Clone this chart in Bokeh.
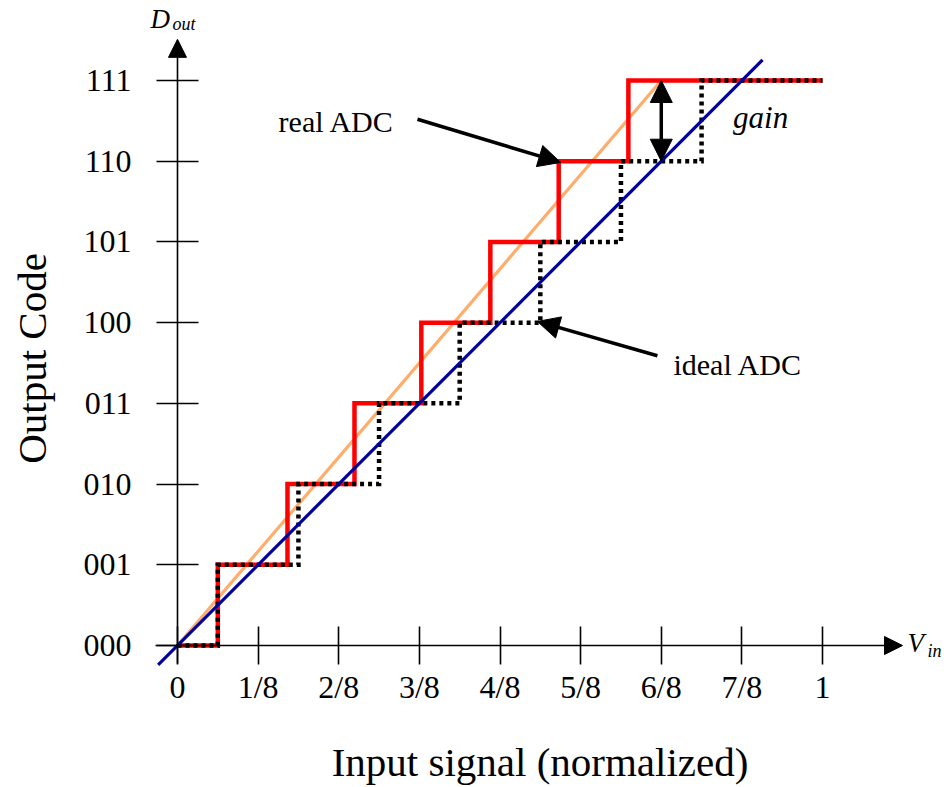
import numpy as np
from bokeh.plotting import figure
from bokeh.models import Range1d, FixedTicker, Label, Arrow, NormalHead
from bokeh.embed import file_html
from bokeh.resources import INLINE

# ---- data ----
x_ticks = [0, 1/8, 2/8, 3/8, 4/8, 5/8, 6/8, 7/8, 1]
x_tick_labels = ["0", "1/8", "2/8", "3/8", "4/8", "5/8", "6/8", "7/8", "1"]
y_ticks = [0, 1, 2, 3, 4, 5, 6, 7]
y_tick_labels = ["000", "001", "010", "011", "100", "101", "110", "111"]

ideal_x = [0, 1/16, 3/16, 5/16, 7/16, 9/16, 11/16, 13/16, 1]
ideal_y = [0, 1, 2, 3, 4, 5, 6, 7, 7]
real_x = [0, 0.0625, 0.1705, 0.2744, 0.378, 0.485, 0.591, 0.699, 1]
real_y = [0, 1, 2, 3, 4, 5, 6, 7, 7]

ideal_line_x = [-0.03, 0.907]
ideal_line_y = [-0.24, 7.256]
real_line_x = [0, 0.75]
real_line_y = [0, 7]

SERIF = "Liberation Serif"

p = figure(width=944, height=787,
           x_range=Range1d(-0.2744, 1.1891), y_range=Range1d(-1.7593, 7.9912),
           output_backend="svg", toolbar_location=None, min_border=0,
           outline_line_color=None, background_fill_color="white",
           border_fill_color="white")
p.grid.visible = False

# axes at origin
for ax, ticks, labels, tl in ((p.xaxis, x_ticks, x_tick_labels, 19),
                              (p.yaxis, y_ticks, y_tick_labels, 21)):
    ax.fixed_location = 0
    ax.ticker = FixedTicker(ticks=ticks)
    ax.major_label_overrides = {t: l for t, l in zip(ticks, labels)}
    ax.axis_line_color = None
    ax.major_tick_in = tl
    ax.major_tick_out = tl
    ax.major_tick_line_color = "black"
    ax.major_tick_line_width = 1.6
    ax.minor_tick_line_color = None
    ax.major_label_text_font = SERIF
    ax.major_label_text_font_size = "32px"
    ax.major_label_text_color = "black"
p.xaxis.major_label_standoff = 4
p.yaxis.major_label_standoff = 25
p.yaxis.major_label_orientation = "horizontal"

# axis lines with arrow heads
p.add_layout(Arrow(end=NormalHead(size=18, fill_color="black", line_color="black"),
                   x_start=-0.034, y_start=0, x_end=1.124, y_end=0,
                   line_width=1.6, line_color="black"))
p.add_layout(Arrow(end=NormalHead(size=18, fill_color="black", line_color="black"),
                   x_start=0, y_start=-0.223, x_end=0, y_end=7.51,
                   line_width=1.6, line_color="black"))

# data lines
p.line(real_line_x, real_line_y, line_color="#ffad6b", line_width=3.2)
p.step(real_x, real_y, mode="after", line_color="#ff0000", line_width=4.5,
       line_join="miter")
p.step(ideal_x, ideal_y, mode="after", line_color="black", line_width=4.5,
       line_dash="4 4", line_join="miter")
p.line(ideal_line_x, ideal_line_y, line_color="#00009c", line_width=3.2)

# annotation arrows
def head():
    return NormalHead(size=22, fill_color="black", line_color="black")

p.add_layout(Arrow(end=head(), x_start=0.372, y_start=6.52, x_end=0.594, y_end=5.985,
                   line_width=3.5, line_color="black"))
p.add_layout(Arrow(end=head(), x_start=0.744, y_start=3.59, x_end=0.558, y_end=4.015,
                   line_width=3.5, line_color="black"))
p.add_layout(Arrow(start=head(), end=head(), x_start=0.75, y_start=6.0, x_end=0.75, y_end=7.0,
                   line_width=3.5, line_color="black"))

# texts
def lab(x, y, text, size, align="center", style="normal", angle=0.0, baseline="alphabetic"):
    p.add_layout(Label(x=x, y=y, text=text, text_font=SERIF, text_font_size=size,
                       text_align=align, text_baseline=baseline, text_font_style=style,
                       text_color="black", angle=angle))

dy = 0.124
lab(0.2465, 6.368 + dy, "real ADC", "30px")
lab(0.869, 3.357 + dy, "ideal ADC", "30px")
lab(0.904, 6.418 + dy, "gain", "31px", style="italic")
lab(0.562, -1.5734 + dy, "Input signal (normalized)", "41px")
lab(-0.2248, 3.556, "Output Code", "41px", angle=np.pi / 2)
lab(-0.0419, 7.644 + dy, "D", "27px", align="left", style="italic")
lab(-0.00775, 7.582 + dy, "out", "18px", align="left", style="italic")
lab(1.1318, -0.0991 + dy, "V", "27px", align="left", style="italic")
lab(1.1628, -0.186 + dy, "in", "18px", align="left", style="italic")

open("out.html", "w").write(file_html(p, INLINE))
